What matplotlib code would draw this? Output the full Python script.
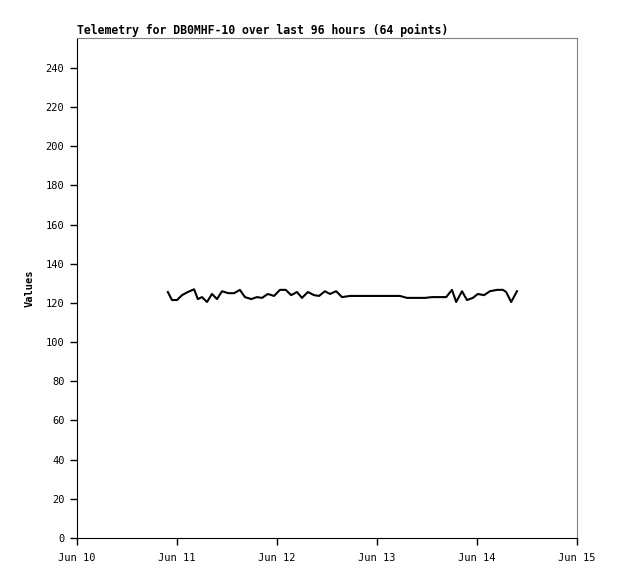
import numpy as np
import matplotlib
matplotlib.use('Agg')
import matplotlib.pyplot as plt
import matplotlib.dates as mdates

plt.rc('font', family='DejaVu Sans Mono')

# hours since Jun 10 00:00 and telemetry values
hours = [21.8, 22.8, 24.0, 25.2, 26.6, 28.1, 29.0, 30.0, 31.2, 32.4,
         33.6, 34.8, 36.3, 37.7, 39.1, 40.3, 41.8, 43.2, 44.4, 45.8,
         47.3, 48.7, 50.1, 51.4, 52.8, 54.0, 55.4, 56.9, 58.1, 59.5,
         60.7, 62.2, 63.6, 65.5, 77.5, 79.2, 83.5, 85.2, 88.6,
         90.0, 91.0, 92.4, 93.6, 95.0, 96.2, 97.7, 99.1, 100.8,
         102.2, 103.0, 104.2, 105.6]
values = [125.6, 121.5, 121.5, 124.0, 125.6, 127.0, 122.0, 123.0, 120.5, 124.6,
          122.0, 126.0, 125.0, 125.0, 126.7, 123.0, 122.0, 123.0, 122.6, 124.6,
          123.6, 126.7, 126.7, 124.0, 125.6, 122.6, 125.6, 124.0, 123.6, 126.0,
          124.6, 126.0, 123.0, 123.6, 123.6, 122.6, 122.6, 123.0, 123.0,
          126.7, 120.5, 126.0, 121.5, 122.6, 124.6, 124.0, 126.0, 126.7,
          126.7, 125.6, 120.5, 126.0]
title = 'Telemetry for DB0MHF-10 over last 96 hours (64 points)'

start = np.datetime64('2024-06-10T00:00')
t = start + np.array([np.timedelta64(int(h * 60), 'm') for h in hours])

fig = plt.figure(figsize=(6.18, 5.79), dpi=100)
ax = fig.add_axes([77/618, 41/579, 500/618, 500/579])

ax.plot(t, values, color='black', lw=1.5)

ax.set_xlim(start, start + np.timedelta64(5, 'D'))
ax.set_ylim(0, 255.3)
ax.set_yticks(np.arange(0, 241, 20))
ax.xaxis.set_major_locator(mdates.DayLocator())
ax.xaxis.set_major_formatter(mdates.DateFormatter('%b %d'))
ax.tick_params(direction='out', length=5, width=1, labelsize=7.5, pad=4)
ax.tick_params(axis='x', pad=6)

for s in ('top', 'right'):
    ax.spines[s].set_color('#808080')
for s in ('left', 'bottom'):
    ax.spines[s].set_color('black')

ax.set_ylabel('Values', fontsize=7.5, fontweight='bold', labelpad=8)
ax.set_title(title, loc='left', fontsize=8.3, fontweight='bold', pad=3)

fig.savefig('out.png', dpi=100)
